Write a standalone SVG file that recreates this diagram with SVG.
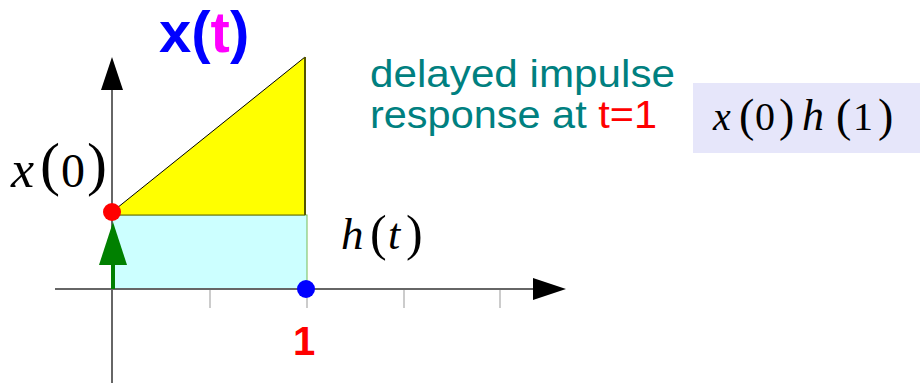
<svg xmlns="http://www.w3.org/2000/svg" width="920" height="387" viewBox="0 0 920 387">
<style>
.axis{stroke:#666;stroke-width:2;fill:none}
.tick{stroke:#ccc;stroke-width:2}
.serif{font-family:"Liberation Serif","Times New Roman",serif;fill:#000}
.it{font-style:italic}
.sans{font-family:"Liberation Sans",Arial,sans-serif}
</style>
<rect width="920" height="387" fill="#fff"/>
<g id="ticks">
<line class="tick" x1="112" y1="289" x2="112" y2="308"/>
<line class="tick" x1="210" y1="289" x2="210" y2="308"/>
<line class="tick" x1="307" y1="289" x2="307" y2="308"/>
<line class="tick" x1="404" y1="289" x2="404" y2="308"/>
<line class="tick" x1="500" y1="289" x2="500" y2="308"/>
</g>
<g id="h-rect">
<rect x="112" y="215" width="195" height="74" fill="#ccffff" stroke="#77bb55" stroke-width="1"/>
</g>
<g id="x-shape">
<polygon points="112,212 305,57 305,215 112,215" fill="#ffff00" stroke="none"/>
<line x1="112" y1="212" x2="305" y2="57" stroke="#000" stroke-width="1"/>
<line x1="305" y1="57" x2="305" y2="215" stroke="#555500" stroke-width="2"/>
<line x1="112" y1="215" x2="305" y2="215" stroke="#666600" stroke-width="1"/>
</g>
<g id="connectors">
<line class="axis" x1="112" y1="88" x2="112" y2="383"/>
<polygon points="112,57 101,90 123,90" fill="#000"/>
<line class="axis" x1="55" y1="289" x2="535" y2="289"/>
<polygon points="566,289 533,278 533,300" fill="#000"/>
<line x1="113" y1="289" x2="113" y2="262" stroke="#008000" stroke-width="4"/>
<polygon points="113,222 99,265 127,265" fill="#008000"/>
</g>
<g id="dots">
<circle cx="112" cy="212" r="9" fill="#ff0000"/>
<circle cx="306" cy="289" r="9" fill="#0000ff"/>
</g>
<g id="title">
<text class="sans" x="159" y="52" font-size="58" font-weight="bold" fill="#0000ff">x(<tspan fill="#ff00ff">t</tspan>)</text>
</g>
<g id="label-x0">
<text class="serif" y="187"><tspan class="it" x="11" y="187" font-size="52">x</tspan><tspan x="40" y="184" font-size="60">(</tspan><tspan x="61" y="187" font-size="48">0</tspan><tspan x="87" y="184" font-size="60">)</tspan></text>
</g>
<g id="label-ht">
<text class="serif" y="249"><tspan class="it" x="341" y="249" font-size="45">h</tspan><tspan x="370" y="250" font-size="50">(</tspan><tspan class="it" x="388" y="249" font-size="44">t</tspan><tspan x="406" y="250" font-size="50">)</tspan></text>
</g>
<g id="label-one">
<text class="sans" x="304" y="355" font-size="40" font-weight="bold" fill="#ff0000" text-anchor="middle">1</text>
</g>
<g id="caption">
<text class="sans" x="370" y="87" font-size="38" fill="#008080" textLength="305" lengthAdjust="spacingAndGlyphs">delayed impulse</text>
<text class="sans" x="370" y="128" font-size="38" fill="#008080" textLength="287" lengthAdjust="spacingAndGlyphs">response at <tspan fill="#ff0000">t=1</tspan></text>
</g>
<g id="result-box">
<rect x="693" y="83" width="227" height="70" fill="#e6e6fa"/>
<text class="serif" y="130"><tspan class="it" x="713" y="130" font-size="40">x</tspan><tspan x="739" y="131" font-size="46">(</tspan><tspan x="755" y="130" font-size="40">0</tspan><tspan x="779" y="131" font-size="46">)</tspan><tspan class="it" x="802" y="130" font-size="44">h</tspan><tspan x="836" y="131" font-size="46">(</tspan><tspan x="853" y="130" font-size="40">1</tspan><tspan x="878" y="131" font-size="46">)</tspan></text>
</g>
</svg>
